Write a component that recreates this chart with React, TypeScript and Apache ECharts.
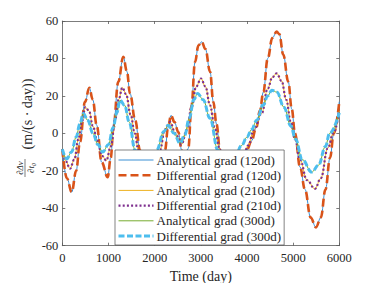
import React, { useEffect, useRef } from "react";
import * as echarts from "echarts";

// x ticks / y ticks
const xTicks = [0, 1000, 2000, 3000, 4000, 5000, 6000];
const yTicks = [-60, -40, -20, 0, 20, 40, 60];

// 120-day step gradient (analytical ≈ differential)
const days120 = [0,100,204,300,383,492,585,660,745,853,983,1050,1105,1213,1321,1400,1466,1581,1683,1800,1950,2100,2225,2290,2355,2430,2513,2586,2660,2729,2800,2874,2950,3019,3100,3200,3271,3340,3416,3550,3700,3850,3994,4100,4200,4280,4354,4450,4550,4644,4700,4787,4895,4970,5040,5150,5257,5380,5495,5600,5700,5800,5880,6000];
const grad120 = [-8.5,-24,-31.4,-20,-4.6,16.8,24.3,18,4.3,-15.4,-23.4,-13,2.5,27.5,40.9,33,21.3,6.8,-9.1,-22,-28,-20,-9,3,9.6,6,0.7,-9,-14,-8,15,38,47,48.9,45,33,16.8,5,-9,-26,-32,-22,-9,-4,3,12,22,40,51,54.3,53,42,27.5,13,0,-18,-30,-45,-50.2,-45,-30,-13,0,17];

// 210-day step gradient
const days210 = [0,80,167,260,350,420,500,580,660,760,860,955,1050,1150,1220,1300,1380,1480,1570,1650,1800,1950,2116,2220,2333,2450,2580,2700,2800,2900,3004,3100,3200,3300,3416,3600,3750,3900,4029,4150,4319,4450,4550,4644,4750,4850,4950,5040,5150,5300,5473,5600,5750,5870,6000];
const grad210 = [-8.5,-15,-18.9,-14,-3,6,14,12,4,-4,-12,-14.5,-7,8,18,24.5,21,10,0,-9,-18,-20,-9,2,6,0,-6,2,14,25,29.3,25,15,3,-9,-20,-22,-14,-6.4,2,10.6,24,30,32,28,18,6,-3,-14,-25,-29.6,-24,-8,0,12];

// 300-day step gradient
const days300 = [0,95,200,300,380,455,550,665,770,875,1000,1100,1180,1250,1350,1450,1576,1750,1900,2045,2200,2296,2420,2549,2650,2750,2850,2931,3050,3200,3370,3550,3700,3886,4000,4100,4211,4350,4450,4536,4650,4800,4950,5050,5200,5401,5550,5700,5790,6000];
const grad300 = [-8.5,-13.6,-10,-2,5,10.6,7,0,-6,-10,-6,3,11,17.7,15,6,-9,-17,-16,-9,1,4.3,0,-5.3,-1,8,18,21.3,18,8,-9,-17,-16,-6.4,-2,2,7,15,20,23,22,14,4,-3,-14,-20.7,-17,-7,0,11];

const seriesNames = [
  "Analytical grad (120d)",
  "Differential grad (120d)",
  "Analytical grad (210d)",
  "Differential grad (210d)",
  "Analytical grad (300d)",
  "Differential grad (300d)",
];

const SERIF = "'Liberation Serif', 'Times New Roman', serif";
const TXT = "#262626";
const AX = "#5a5a5a";

const pairs = (xs: number[], ys: number[]) => xs.map((x, i) => [x, ys[i]]);

export default function App() {
  const ref = useRef<HTMLDivElement>(null);
  useEffect(() => {
    if (!ref.current) return;
    const chart = echarts.init(ref.current, undefined, { renderer: "svg" });
    const styles = [
      { color: "#3a8fd4", width: 1, type: "solid" as any },
      { color: "#D95319", width: 2.6, type: [8, 4] as any },
      { color: "#EDB120", width: 1, type: "solid" as any },
      { color: "#7E2F8E", width: 2.2, type: [2, 2.2] as any },
      { color: "#77AC30", width: 1, type: "solid" as any },
      { color: "#4DBEEE", width: 3, type: [6, 2.5] as any },
    ];
    const datas = [
      pairs(days120, grad120),
      pairs(days120, grad120),
      pairs(days210, grad210),
      pairs(days210, grad210),
      pairs(days300, grad300),
      pairs(days300, grad300),
    ];
    const axisCommon = {
      type: "value" as const,
      axisLine: { show: true, onZero: false, lineStyle: { color: AX, width: 0.8 } },
      axisTick: { show: true, inside: true, length: 3, lineStyle: { color: AX, width: 0.8 } },
      splitLine: { show: false },
    };
    const labelStyle = {
      fontFamily: SERIF,
      fontSize: 12.5,
      color: TXT,
      formatter: (v: number) => String(v),
    };
    chart.setOption({
      animation: false,
      backgroundColor: "#ffffff",
      textStyle: { fontFamily: SERIF },
      grid: { left: 62.3, top: 21, width: 277, height: 224.7, containLabel: false },
      xAxis: [
        { ...axisCommon, position: "bottom", min: xTicks[0], max: xTicks[xTicks.length - 1], interval: 1000,
          axisLabel: { ...labelStyle, margin: 6 } },
        { ...axisCommon, position: "top", min: xTicks[0], max: xTicks[xTicks.length - 1], interval: 1000,
          axisLabel: { show: false } },
      ],
      yAxis: [
        { ...axisCommon, position: "left", min: yTicks[0], max: yTicks[yTicks.length - 1], interval: 20,
          axisLabel: { ...labelStyle, margin: 4 } },
        { ...axisCommon, position: "right", min: yTicks[0], max: yTicks[yTicks.length - 1], interval: 20,
          axisLabel: { show: false } },
      ],
      legend: {
        orient: "vertical",
        left: 115,
        top: 150,
        data: seriesNames,
        itemWidth: 35,
        itemHeight: 14,
        itemGap: 1.2,
        padding: [3, 3, 2, 2],
        backgroundColor: "#ffffff",
        borderColor: "#4d4d4d",
        borderWidth: 0.7,
        borderRadius: 0,
        itemStyle: { opacity: 0, borderWidth: 0 },
        lineStyle: { width: "inherit", type: "inherit" },
        textStyle: { fontFamily: SERIF, fontSize: 13, color: TXT, lineHeight: 14, padding: [0, 0, 0, -2] },
      },
      graphic: [
        {
          type: "text",
          x: 27,
          y: 114,
          rotation: Math.PI / 2,
          style: { text: "(m/(s · day))", fontFamily: SERIF, fontSize: 14, fill: TXT, align: "center", verticalAlign: "middle" },
        },
        {
          type: "group",
          x: 25,
          y: 168,
          rotation: Math.PI / 2,
          children: [
            { type: "text", x: 0, y: -5, style: { text: "∂Δv", fontFamily: SERIF, fontStyle: "italic", fontSize: 9, fill: TXT, align: "center", verticalAlign: "middle" } },
            { type: "line", shape: { x1: -9, y1: 0, x2: 9, y2: 0 }, style: { stroke: TXT, lineWidth: 0.6 } },
            { type: "text", x: 0, y: 5.5, style: { text: "∂t₀", fontFamily: SERIF, fontStyle: "italic", fontSize: 9, fill: TXT, align: "center", verticalAlign: "middle" } },
          ],
        },
        {
          type: "text",
          x: 200.8,
          y: 276,
          style: { text: "Time (day)", fontFamily: SERIF, fontSize: 14, fill: TXT, align: "center", verticalAlign: "middle" },
        },
      ],
      series: seriesNames.map((name, i) => ({
        name,
        type: "line",
        xAxisIndex: 0,
        yAxisIndex: 0,
        data: datas[i],
        smooth: 0.4,
        smoothMonotone: "x",
        symbol: "none",
        showSymbol: false,
        lineStyle: { color: styles[i].color, width: styles[i].width, type: styles[i].type },
        itemStyle: { color: styles[i].color },
        z: 2,
      })),
    });
    return () => chart.dispose();
  }, []);
  return (
    <div
      ref={ref}
      style={{ position: "fixed", left: 0, top: 0, width: 374, height: 283, background: "#fff" }}
    />
  );
}
